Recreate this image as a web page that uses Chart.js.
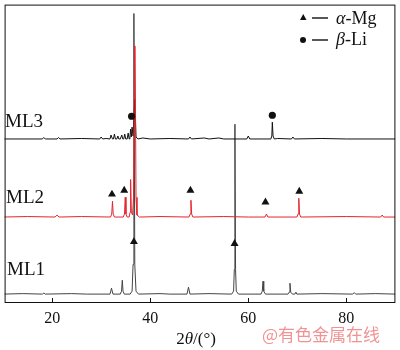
<!DOCTYPE html>
<html>
<head>
<meta charset="utf-8">
<script src="https://cdn.jsdelivr.net/npm/chart.js@4/dist/chart.umd.min.js"></script>
<style>
  html, body { margin: 0; padding: 0; background: #fff; }
</style>
</head>
<body>
<canvas id="xrd" width="400" height="350"></canvas>
<script>
// 2θ (deg), intensity above each trace's own baseline
const ml1Pattern = [
  [10, 0], [14, 0.5], [18, 0], [18.3, 1], [18.6, 0], [24, 0.5], [27, 0],
  [31.8, 0], [32.1, 6], [32.4, 0], [33.9, 0], [34.15, 3], [34.3, 14], [34.45, 3], [34.7, 0],
  [35.9, 0], [36.3, 3], [36.5, 30], [36.67, 284], [36.85, 30], [37.1, 3], [37.6, 0],
  [42, 0.5], [44, 0], [47.5, 0], [47.8, 7], [48.1, 0], [52, 0.5],
  [56.6, 0], [57.0, 3], [57.15, 25], [57.27, 172], [57.4, 25], [57.55, 3], [58.0, 0],
  [62.6, 0], [62.85, 3], [63.0, 13], [63.15, 3], [63.5, 0],
  [68.1, 0], [68.35, 2], [68.5, 11], [68.65, 2], [69.0, 0], [69.5, 0], [69.7, 2], [69.9, 0],
  [75, 0.5], [81.3, 0], [81.6, 1.5], [81.9, 0], [86, 0.5], [90, 0]
];
const ml2Pattern = [
  [10, 0], [15, 0.5], [20.6, 0], [21.0, 2], [21.4, 0], [26, 0.5], [31.9, 0],
  [32.15, 3], [32.3, 16], [32.45, 3], [32.7, 0], [34.5, 0], [34.75, 3], [34.9, 20], [35.05, 3], [35.3, 0],
  [35.7, 0], [35.9, 5], [36.0, 38], [36.15, 5], [36.4, 2], [36.6, 20], [36.8, 173], [36.92, 173], [37.1, 20], [37.3, 2], [37.8, 0],
  [42, 0.5], [47.9, 0], [48.15, 3], [48.3, 17], [48.45, 3], [48.7, 0], [55, 0.5], [60, 0],
  [63.4, 0], [63.7, 3], [64.0, 0], [69.9, 0], [70.15, 3], [70.3, 19], [70.45, 3], [70.7, 0],
  [80, 0.5], [87.0, 0], [87.3, 2], [87.6, 0], [90, 0]
];
const ml3Pattern = [
  [10, 0], [18.0, 0], [18.3, 1.5], [18.6, 0], [21.0, 0], [21.3, 1.5], [21.6, 0], [26, 0.5],
  [29.7, 0], [30.0, 2], [30.3, 0], [31.0, 0.5], [31.8, 0], [32.0, 4], [32.3, 0], [32.5, 0], [32.7, 5], [32.9, 0],
  [33.2, 0], [33.4, 3], [33.6, 0], [33.9, 0], [34.2, 4], [34.4, 0], [34.6, 0], [34.8, 5], [35.0, 0],
  [35.3, 0], [35.5, 6], [35.7, 0], [35.85, 1], [36.0, 10], [36.15, 2], [36.3, 12], [36.5, 3],
  [36.85, 40], [37.1, 2], [37.5, 0], [38.5, 1], [40, 0], [44, 0.5], [47.8, 0], [48.1, 2], [48.4, 0],
  [51, 1], [52, 0], [54, 1], [55, 0], [59.7, 0], [60.0, 3], [60.3, 0],
  [64.6, 0], [64.8, 3], [64.9, 17], [65.05, 3], [65.3, 0], [66, 0.5],
  [68.8, 0], [69.1, 2], [69.4, 0], [75, 0.5], [80, 0], [90, 0]
];
const traceOffsets = { ML1: 9, ML2: 87, ML3: 166 };

// phase markers [2θ, stacked height]
const alphaMgMarks = [[32.2, 110], [34.7, 114], [48.2, 114], [63.5, 102], [70.4, 113], [36.67, 62], [57.2, 60]];
const betaLiMarks = [[36.2, 189], [64.9, 190]];

const xTicks = [20, 40, 60, 80];

const SERIF = "'Liberation Serif', 'Times New Roman', serif";

const toPoints = (pattern, offset) => pattern.map(([x, y]) => ({ x, y: y + offset }));

// frame, inward ticks, trace names, legend, axis title
const decorations = {
  id: "decorations",
  afterDraw(chart) {
    const { ctx, chartArea: a, scales } = chart;
    const x = scales.x;
    ctx.save();
    ctx.strokeStyle = "#111";
    ctx.lineWidth = 1;
    ctx.strokeRect(a.left + 0.5, a.top + 0.5, a.right - a.left - 1, a.bottom - a.top - 1);
    xTicks.forEach(v => {
      const px = Math.round(x.getPixelForValue(v)) + 0.5;
      ctx.beginPath();
      ctx.moveTo(px, a.bottom);
      ctx.lineTo(px, a.bottom - 5);
      ctx.stroke();
    });

    ctx.fillStyle = "#111";
    ctx.textBaseline = "middle";
    ctx.font = `19px ${SERIF}`;
    ctx.fillText("ML3", 5, 122);
    ctx.fillText("ML2", 6, 198);
    ctx.fillText("ML1", 7, 270);

    // legend
    ctx.beginPath();
    ctx.moveTo(300, 20);
    ctx.lineTo(306.5, 20);
    ctx.lineTo(303.25, 14);
    ctx.closePath();
    ctx.fill();
    ctx.beginPath();
    ctx.arc(303, 40, 3, 0, Math.PI * 2);
    ctx.fill();
    ctx.lineWidth = 1.4;
    [18, 40].forEach(y => {
      ctx.beginPath();
      ctx.moveTo(312, y);
      ctx.lineTo(328, y);
      ctx.stroke();
    });
    const mixed = (parts, size, x0, y) => {
      let cx = x0;
      parts.forEach(([txt, italic]) => {
        ctx.font = `${italic ? "italic " : ""}${size}px ${SERIF}`;
        ctx.fillText(txt, cx, y);
        cx += ctx.measureText(txt).width;
      });
      return cx - x0;
    };
    mixed([["α", true], ["-Mg", false]], 18, 336, 19);
    mixed([["β", true], ["-Li", false]], 18, 336, 40);

    // x axis title, centred
    const titleParts = [["2", false], ["θ", true], ["/(°)", false]];
    let w = 0;
    titleParts.forEach(([t, it]) => {
      ctx.font = `${it ? "italic " : ""}17px ${SERIF}`;
      w += ctx.measureText(t).width;
    });
    mixed(titleParts, 17, 196 - w / 2, 340);

    // watermark
    ctx.font = "17px 'Noto Sans CJK SC', sans-serif";
    ctx.fillStyle = "rgba(238, 120, 120, 0.8)";
    ctx.fillText("@有色金属在线", 262, 335);
    ctx.restore();
  },
};

new Chart(document.getElementById("xrd"), {
  type: "line",
  data: {
    datasets: [
      {
        label: "α-Mg",
        data: alphaMgMarks.map(([x, y]) => ({ x, y })),
        showLine: false,
        pointStyle: "triangle",
        pointRadius: 4.6,
        backgroundColor: "#111",
        borderColor: "#111",
        borderWidth: 0,
        order: 0,
      },
      {
        label: "β-Li",
        data: betaLiMarks.map(([x, y]) => ({ x, y })),
        showLine: false,
        pointStyle: "circle",
        pointRadius: 3.6,
        backgroundColor: "#111",
        borderColor: "#111",
        borderWidth: 0,
        order: 0,
      },
      {
        label: "ML2",
        data: toPoints(ml2Pattern, traceOffsets.ML2),
        borderColor: "#e3262d",
        borderWidth: 1,
        pointRadius: 0,
        order: 1,
      },
      {
        label: "ML3",
        data: toPoints(ml3Pattern, traceOffsets.ML3),
        borderColor: "#111",
        borderWidth: 1,
        pointRadius: 0,
        order: 2,
      },
      {
        label: "ML1",
        data: toPoints(ml1Pattern, traceOffsets.ML1),
        borderColor: "#444",
        borderWidth: 1,
        pointRadius: 0,
        order: 3,
      },
    ],
  },
  options: {
    responsive: false,
    animation: false,
    devicePixelRatio: 1,
    layout: { padding: { left: 2, right: 1, top: 1, bottom: 0 } },
    elements: { line: { tension: 0 } },
    plugins: { legend: { display: false }, tooltip: { enabled: false } },
    scales: {
      x: {
        type: "linear",
        min: 10.3,
        max: 90,
        afterBuildTicks: scale => {
          scale.ticks = xTicks.map(value => ({ value }));
        },
        afterFit: scale => {
          scale.height = 47;
        },
        grid: { display: false, drawTicks: false },
        border: { display: false },
        ticks: {
          padding: 6,
          color: "#111",
          font: { family: SERIF, size: 16 },
        },
      },
      y: {
        display: false,
        min: 0,
        max: 302,
      },
    },
  },
  plugins: [decorations],
});
</script>
</body>
</html>
